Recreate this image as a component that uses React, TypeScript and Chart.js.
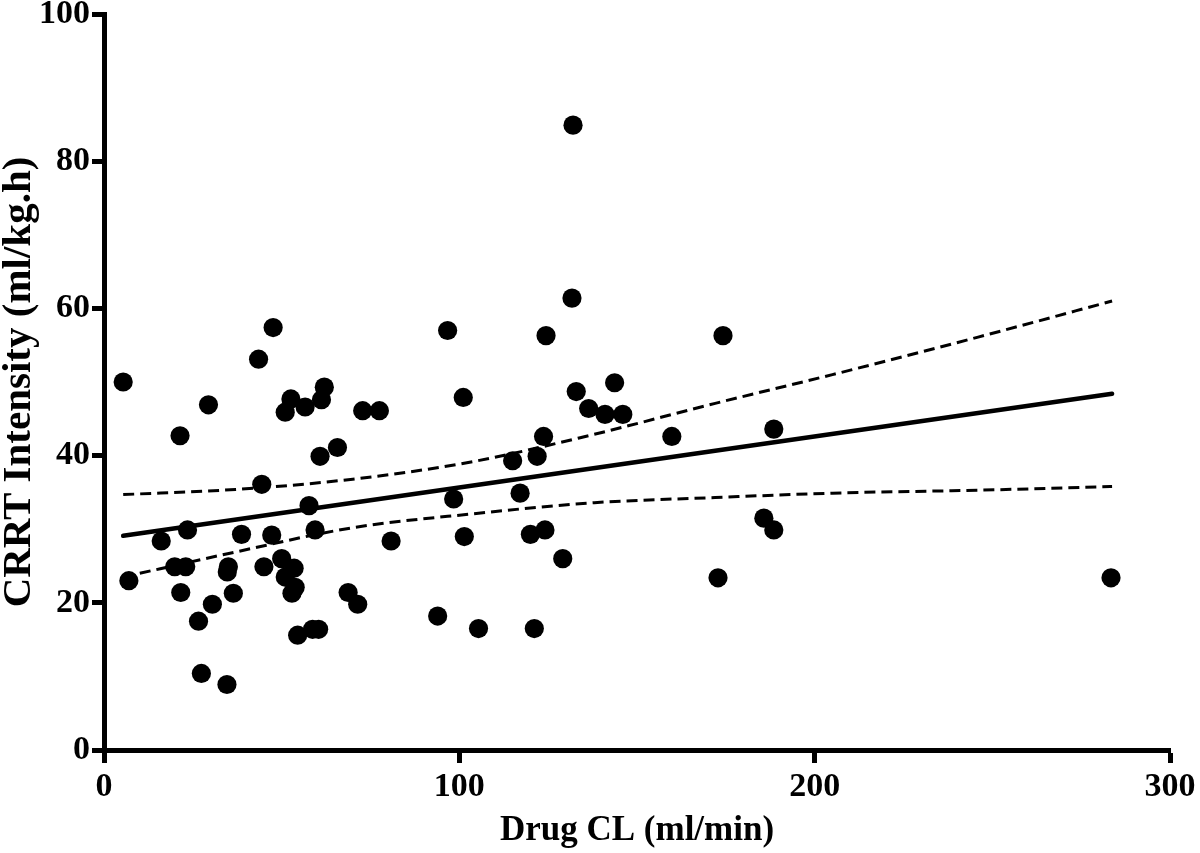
import React, { useEffect, useRef } from "react";
import { Chart, registerables } from "chart.js";

Chart.register(...registerables);

// Scatter data: Drug CL (ml/min) vs CRRT Intensity (ml/kg.h)
const drugCL = [
  5.4, 7, 16.1, 19.9, 23, 21.4, 21.6, 23.5, 26.6, 27.4, 29.4, 30.5, 34.6, 35, 34.7, 36.4,
  38.7, 43.5, 44.4, 45, 47.2, 47.6, 50, 51, 51, 52.6, 52.9, 53.8, 53.5, 54.5, 56.6, 57.7,
  58.7, 59.4, 60.4, 60.8, 61.2, 62, 65.7, 68.7, 71.4, 72.8, 77.5, 80.8, 93.9, 96.7, 98.4,
  101.1, 101.4, 105.4, 115, 117.1, 120, 121.1, 121.9, 123.7, 124.1, 124.4, 129.1, 131.7,
  132, 132.9, 136.4, 141, 143.7, 146, 159.8, 172.8, 174.2, 185.7, 188.5, 188.5, 283.4,
];
const crrtIntensity = [
  50, 23, 28.4, 24.9, 24.9, 42.7, 21.4, 29.9, 17.5, 10.4, 46.9, 19.8, 8.9, 24.9, 24.2, 21.3,
  29.3, 53.1, 36.1, 24.9, 29.2, 57.4, 26, 45.9, 23.5, 47.7, 21.3, 22.1, 24.7, 15.6, 46.6, 33.2,
  16.4, 29.9, 16.4, 39.9, 47.6, 49.3, 41.1, 21.4, 19.8, 46.1, 46.1, 28.4, 18.2, 57, 34.1,
  47.9, 29, 16.5, 39.3, 34.9, 29.3, 16.5, 39.9, 42.6, 29.9, 56.3, 26, 61.4,
  84.9, 48.7, 46.4, 45.6, 49.9, 45.6, 42.6, 23.4, 56.3, 31.5, 29.9, 43.6, 23.4,
];

// Regression line
const fitX = [5.4, 283.7];
const fitY = [29.1, 48.4];

// 95% confidence band
const bandX = [5.4, 37, 70, 104, 138, 172, 205, 246, 283.7];
const bandUpper = [34.7, 35.4, 36.8, 39.2, 42.9, 47.1, 51.0, 56.1, 61.0];
const bandLower = [23.5, 26.9, 30.2, 32.1, 33.6, 34.3, 34.9, 35.3, 35.8];

const xTicks = [0, 100, 200, 300];
const yTicks = [0, 20, 40, 60, 80, 100];

const xTitle = "Drug CL (ml/min)";
const yTitle = "CRRT Intensity (ml/kg.h)";

const FONT = "'Liberation Serif', 'DejaVu Serif', 'Times New Roman', serif";

export default function App() {
  const canvasRef = useRef<HTMLCanvasElement | null>(null);

  useEffect(() => {
    if (!canvasRef.current) return;
    const toXY = (xs: number[], ys: number[]) => xs.map((x, i) => ({ x, y: ys[i] }));

    const chart = new Chart(canvasRef.current, {
      type: "scatter",
      data: {
        datasets: [
          {
            type: "line",
            data: toXY(bandX, bandUpper),
            borderColor: "#000",
            borderWidth: 3,
            borderDash: [11, 6],
            pointRadius: 0,
            cubicInterpolationMode: "monotone",
            fill: false,
          } as any,
          {
            type: "line",
            data: toXY(bandX, bandLower),
            borderColor: "#000",
            borderWidth: 3,
            borderDash: [11, 6],
            pointRadius: 0,
            cubicInterpolationMode: "monotone",
            fill: false,
          } as any,
          {
            type: "line",
            data: toXY(fitX, fitY),
            borderColor: "#000",
            borderWidth: 4.5,
            borderCapStyle: "round",
            pointRadius: 0,
            fill: false,
          } as any,
          {
            type: "scatter",
            data: toXY(drugCL, crrtIntensity),
            backgroundColor: "#000",
            borderColor: "#000",
            borderWidth: 0,
            pointRadius: 9.6,
            pointHoverRadius: 9.6,
          },
        ],
      },
      options: {
        animation: false,
        responsive: true,
        maintainAspectRatio: false,
        layout: { padding: { top: 14, right: 30, left: 0, bottom: 0 } },
        plugins: {
          legend: { display: false },
          tooltip: { enabled: false },
        },
        scales: {
          x: {
            type: "linear",
            min: 0,
            max: 300,
            afterBuildTicks: (s: any) => {
              s.ticks = xTicks.map((v) => ({ value: v }));
            },
            afterFit: (s: any) => {
              s.height = 103;
              s.paddingLeft = 0;
              s.paddingRight = 0;
            },
            grid: {
              drawOnChartArea: false,
              drawTicks: true,
              tickLength: 13,
              tickWidth: 5,
              tickColor: "#000",
              color: "#000",
            },
            border: { display: true, color: "#000", width: 5 },
            ticks: {
              color: "#000",
              padding: 4,
              maxRotation: 0,
              font: { family: FONT, size: 34, weight: "bold" },
            },
            title: {
              display: true,
              text: xTitle,
              color: "#000",
              font: { family: FONT, size: 35, weight: "bold", lineHeight: 1.2 },
              padding: { top: 0, bottom: 1 },
            },
          },
          y: {
            type: "linear",
            min: 0,
            max: 100,
            afterBuildTicks: (s: any) => {
              s.ticks = yTicks.map((v) => ({ value: v }));
            },
            afterFit: (s: any) => {
              s.width = 104;
              s.paddingTop = 0;
              s.paddingBottom = 0;
            },
            grid: {
              drawOnChartArea: false,
              drawTicks: true,
              tickLength: 12,
              tickWidth: 5,
              tickColor: "#000",
              color: "#000",
            },
            border: { display: true, color: "#000", width: 5 },
            ticks: {
              color: "#000",
              padding: 2,
              font: { family: FONT, size: 34, weight: "bold" },
            },
            title: {
              display: true,
              text: yTitle,
              color: "#000",
              font: { family: FONT, size: 41, weight: "bold", lineHeight: 0.93 },
              padding: { top: 0, bottom: 0 },
            },
          },
        },
      },
    });

    return () => chart.destroy();
  }, []);

  return (
    <div
      style={{
        position: "fixed",
        left: 0,
        top: 0,
        width: 1200,
        height: 853,
        background: "#fff",
      }}
    >
      <canvas ref={canvasRef} />
    </div>
  );
}
